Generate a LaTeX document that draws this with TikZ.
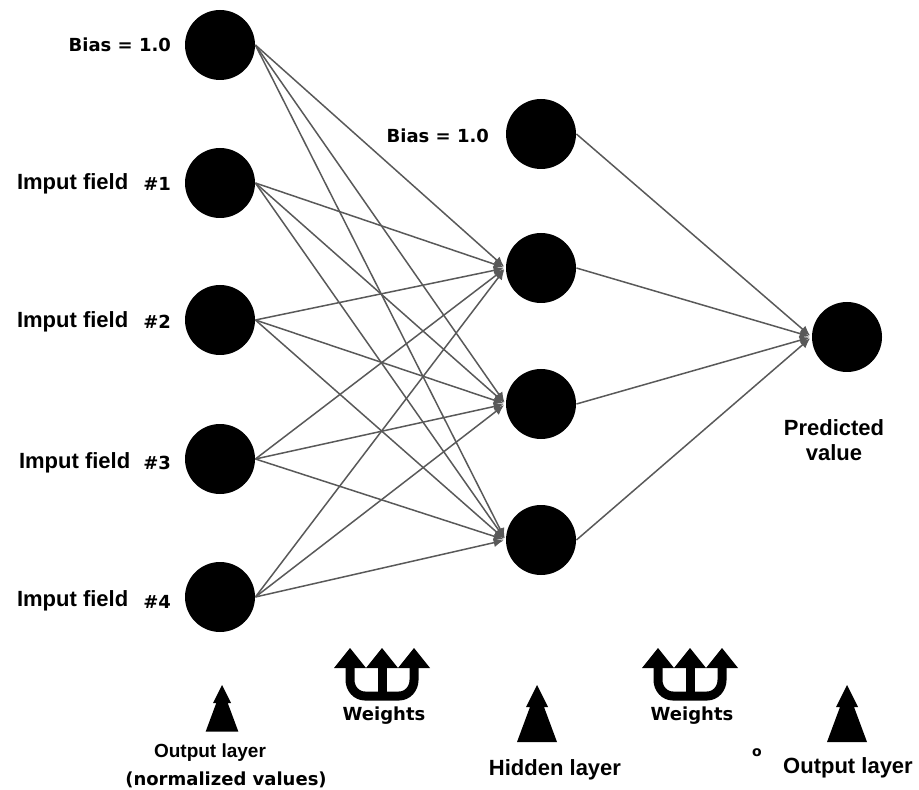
\documentclass[tikz,border=0pt]{standalone}
\usepackage{fontspec}
\setmainfont{Liberation Sans}
\newfontfamily\pixfont{DejaVu Sans}
\usetikzlibrary{arrows.meta}

\tikzset{
	neuron/.style={circle,fill=black,minimum size=35pt,inner sep=0pt},
	link/.style={draw=black!65,line width=0.75pt,-{Latex[length=5pt,width=4.5pt]},shorten >=1pt},
	bigtext/.style={font=\fontsize{11}{12.5}\selectfont\bfseries},
	pixtext/.style={font=\pixfont\fontsize{9}{10}\selectfont\bfseries}
}

\begin{document}
\begin{tikzpicture}[x=0.5pt,y=-0.5pt]
	\useasboundingbox (0,0) rectangle (919,790);

	%NEURONS
	\node[neuron] (in0) at (220,45) {};
	\node[neuron] (in1) at (220,183) {};
	\node[neuron] (in2) at (220,320) {};
	\node[neuron] (in3) at (220,459) {};
	\node[neuron] (in4) at (220,597) {};
	%
	\node[neuron] (hid0) at (541,134) {};
	\node[neuron] (hid1) at (541,268) {};
	\node[neuron] (hid2) at (541,404) {};
	\node[neuron] (hid3) at (541,540) {};
	%
	\node[neuron] (out) at (847,337) {};

	%LABELS
	\node[pixtext,anchor=east] (bias0) at (178,45) {Bias = 1.0};
	\node[pixtext,anchor=east] (bias1) at (496,136) {Bias = 1.0};
	\node[bigtext,anchor=west] (fld1) at (10,184) {Imput field};
		\node[pixtext,anchor=east] (num1) at (178,184) {\#1};
	\node[bigtext,anchor=west] (fld2) at (10,322) {Imput field};
		\node[pixtext,anchor=east] (num2) at (178,322) {\#2};
	\node[bigtext,anchor=west] (fld3) at (12,463) {Imput field};
		\node[pixtext,anchor=east] (num3) at (178,463) {\#3};
	\node[bigtext,anchor=west] (fld4) at (10,601) {Imput field};
		\node[pixtext,anchor=east] (num4) at (178,602) {\#4};
	\node[bigtext,align=center] (pred) at (834,440) {Predicted\\value};

	%CONNECTIONS
	\foreach \i in {0,...,4}{
		\foreach \j in {1,2,3}{
			\draw[link] (in\i.east) -- (hid\j.west);
		}
	}
	\foreach \j in {0,...,3}{
		\draw[link] (hid\j.east) -- (out.west);
	}

	%LAYER ARROWS
	\foreach \x/\s in {222/0.82,537/1,847/1}{
		\begin{scope}[shift={(\x,685)},scale=\s]
			\fill (0,0)--(-11,22)--(-7,22)--(-20,57)--(20,57)--(7,22)--(11,22)--cycle;
		\end{scope}
	}

	%WEIGHTS
	\foreach \x in {382,690}{
		\begin{scope}[shift={(\x,0)}]
			\draw[line width=4.5pt] (-32,662)--(-32,680) to[out=-90,in=180] (-17,696)--(17,696) to[out=0,in=-90] (32,680)--(32,662);
			\draw[line width=4.5pt] (0,662)--(0,696);
			\foreach \h in {-32,0,32}{
				\fill (\h-16,668)--(\h,648)--(\h+16,668)--cycle;
			}
		\end{scope}
	}
	\node[pixtext] (wgt1) at (384,716) {Weights};
	\node[pixtext] (wgt2) at (692,716) {Weights};

	%LAYER NAMES
	\node[font=\fontsize{9.5}{11}\selectfont\bfseries] (lay0) at (210,753) {Output layer};
	\node[pixtext] (norm) at (226,780) {(normalized values)};
	\node[bigtext] (lay1) at (555,770) {Hidden layer};
	\node[pixtext,font=\pixfont\fontsize{7}{8}\selectfont\bfseries] (dot) at (757,753) {o};
	\node[bigtext] (lay2) at (848,768) {Output layer};
\end{tikzpicture}
\end{document}
